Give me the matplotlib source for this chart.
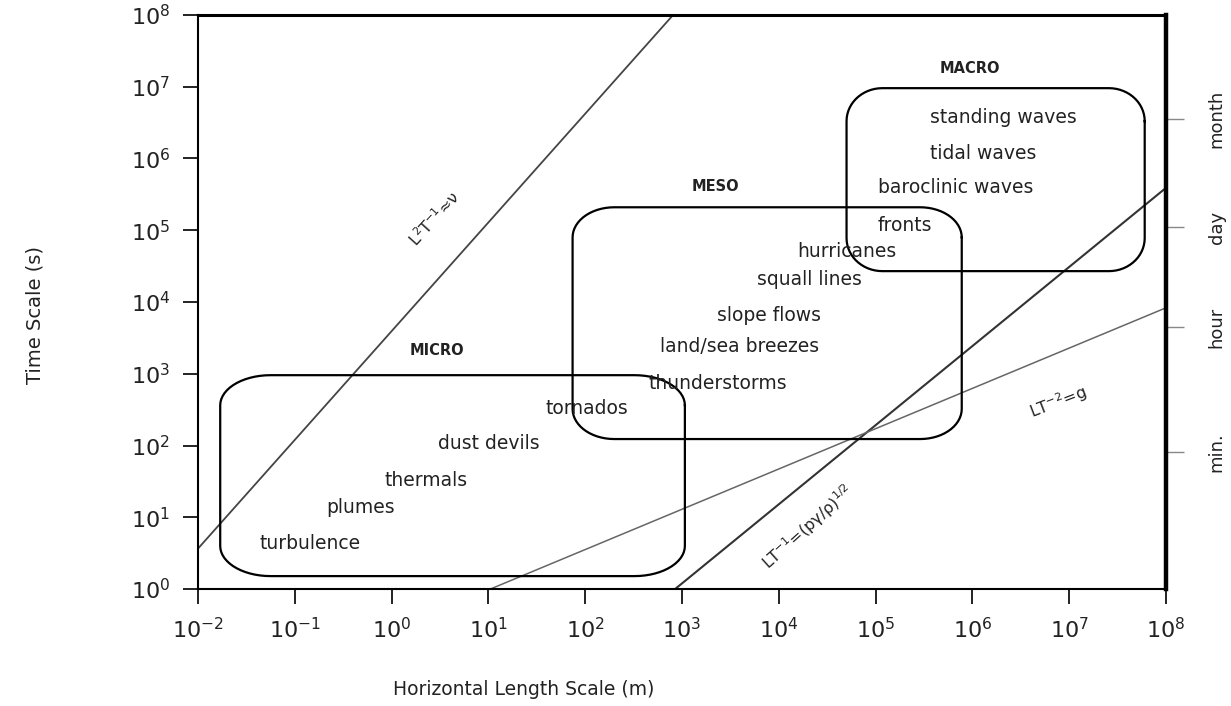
import numpy as np
import matplotlib
matplotlib.use('Agg')
import matplotlib.pyplot as plt

plt.rcParams['font.family'] = ['DejaVu Sans']
plt.rcParams['mathtext.fontset'] = 'dejavusans'

# scale regimes: extent in L and T, plus where the name sits
regime_names = ['MICRO', 'MESO', 'MACRO']
regime_L = [(10**-1.77, 10**3.03), (10**1.87, 10**5.89), (10**4.70, 10**7.78)]
regime_T = [(10**0.18, 10**2.98), (10**2.09, 10**5.32), (10**4.43, 10**6.98)]
regime_label_L = [2.95, 2.2e3, 9.4e5]
regime_label_T = [2.1e3, 4.1e5, 1.8e7]

# phenomena, placed by left edge of the text
phenomena = ['standing waves', 'tidal waves', 'baroclinic waves', 'fronts',
             'hurricanes', 'squall lines', 'slope flows', 'land/sea breezes',
             'thunderstorms', 'tornados', 'dust devils', 'thermals', 'plumes',
             'turbulence']
phen_L = [3.65e5, 3.65e5, 1.06e5, 1.06e5, 1.54e4, 5.96e3, 2.3e3, 593,
          446, 38.5, 3.0, 0.855, 0.21, 0.0437]
phen_T = [3.67e6, 1.19e6, 3.88e5, 1.18e5, 4.98e4, 2.03e4, 6.38e3, 2.36e3,
          743, 333, 108, 33, 13.5, 4.24]

# characteristic lines (end points)
visc_L = [1e-2, 810]
visc_T = [3.65, 1e8]
sound_L = [850, 1e8]
sound_T = [1, 3.9e5]
grav_L = [10.5, 1e8]
grav_T = [1, 8.3e3]

# right hand time marks
time_marks = [3.6e6, 1.1e5, 4.5e3, 80]
time_names = ['month', 'day', 'hour', 'min.']


def rounded_box(ax, xlim, ylim, rx=0.45, ry=0.42, n=16):
    # build the box in decades so the corners stay round on log axes
    x0, x1 = np.log10(xlim)
    y0, y1 = np.log10(ylim)
    xs, ys = [], []
    for cx, cy, a0 in [(x1 - rx, y1 - ry, 0), (x0 + rx, y1 - ry, 90),
                       (x0 + rx, y0 + ry, 180), (x1 - rx, y0 + ry, 270)]:
        t = np.radians(np.linspace(a0, a0 + 90, n))
        xs.extend(cx + rx * np.cos(t))
        ys.extend(cy + ry * np.sin(t))
    xs.append(xs[0])
    ys.append(ys[0])
    ax.plot(10**np.array(xs), 10**np.array(ys), color='black', lw=1.6)


fig = plt.figure(figsize=(12.31, 7.06), dpi=100)
ax = fig.add_axes([0.1608, 0.1657, 0.7864, 0.8131])
ax.set_xscale('log')
ax.set_yscale('log')
ax.set_xlim(1e-2, 1e8)
ax.set_ylim(1e0, 1e8)

ax.plot(visc_L, visc_T, color='#444444', lw=1.3)
ax.plot(sound_L, sound_T, color='#333333', lw=1.5)
ax.plot(grav_L, grav_T, color='#666666', lw=1.1)

radii = [(0.52, 0.42), (0.43, 0.42), (0.37, 0.46)]
for i, name in enumerate(regime_names):
    rounded_box(ax, regime_L[i], regime_T[i], *radii[i])
    ax.text(regime_label_L[i], regime_label_T[i], name, fontsize=10.5,
            fontweight='bold', ha='center', va='center', color='#222222')

for name, L, T in zip(phenomena, phen_L, phen_T):
    ax.text(L, T, name, fontsize=13.5, ha='left', va='center', color='#222222')

ax.text(2.74, 1.44e5, r'L$^2$T$^{-1}$≈ν', fontsize=11.5, rotation=48,
        rotation_mode='anchor', ha='center', va='center', color='#222222')
ax.text(2.0e4, 7.3, r'LT$^{-1}$=(pγ/ρ)$^{1/2}$', fontsize=11.5, rotation=42,
        rotation_mode='anchor', ha='center', va='center', color='#222222')
ax.text(7.66e6, 404, r'LT$^{-2}$=g', fontsize=11.5, rotation=21,
        rotation_mode='anchor', ha='center', va='center', color='#222222')

ax.set_xticks([10.0**k for k in range(-2, 9)])
ax.set_yticks([10.0**k for k in range(0, 9)])
ax.minorticks_off()
ax.tick_params(direction='out', length=11, width=1.4, labelsize=16,
               colors='#222222', pad=9)
for side in ['left', 'bottom']:
    ax.spines[side].set_linewidth(1.5)
ax.spines['top'].set_linewidth(2.2)
ax.spines['right'].set_visible(False)

ax.set_xlabel('Horizontal Length Scale (m)', fontsize=13.5, color='#222222')
ax.xaxis.set_label_coords(0.337, -0.158)
ax.set_ylabel('Time Scale (s)', fontsize=14, color='#222222')
ax.yaxis.set_label_coords(-0.158, 0.477)

# time units on the right
ax2 = ax.twinx()
ax2.set_yscale('log')
ax2.set_ylim(ax.get_ylim())
ax2.set_yticks(time_marks)
ax2.set_yticklabels(time_names, rotation=90, va='center')
ax2.minorticks_off()
ax2.tick_params(direction='out', length=13, width=1.0, color='#888888',
                labelsize=13, labelcolor='#222222', pad=17)
ax2.spines['right'].set_linewidth(3.2)
for side in ['left', 'top', 'bottom']:
    ax2.spines[side].set_visible(False)

fig.savefig('out.png', dpi=100)
